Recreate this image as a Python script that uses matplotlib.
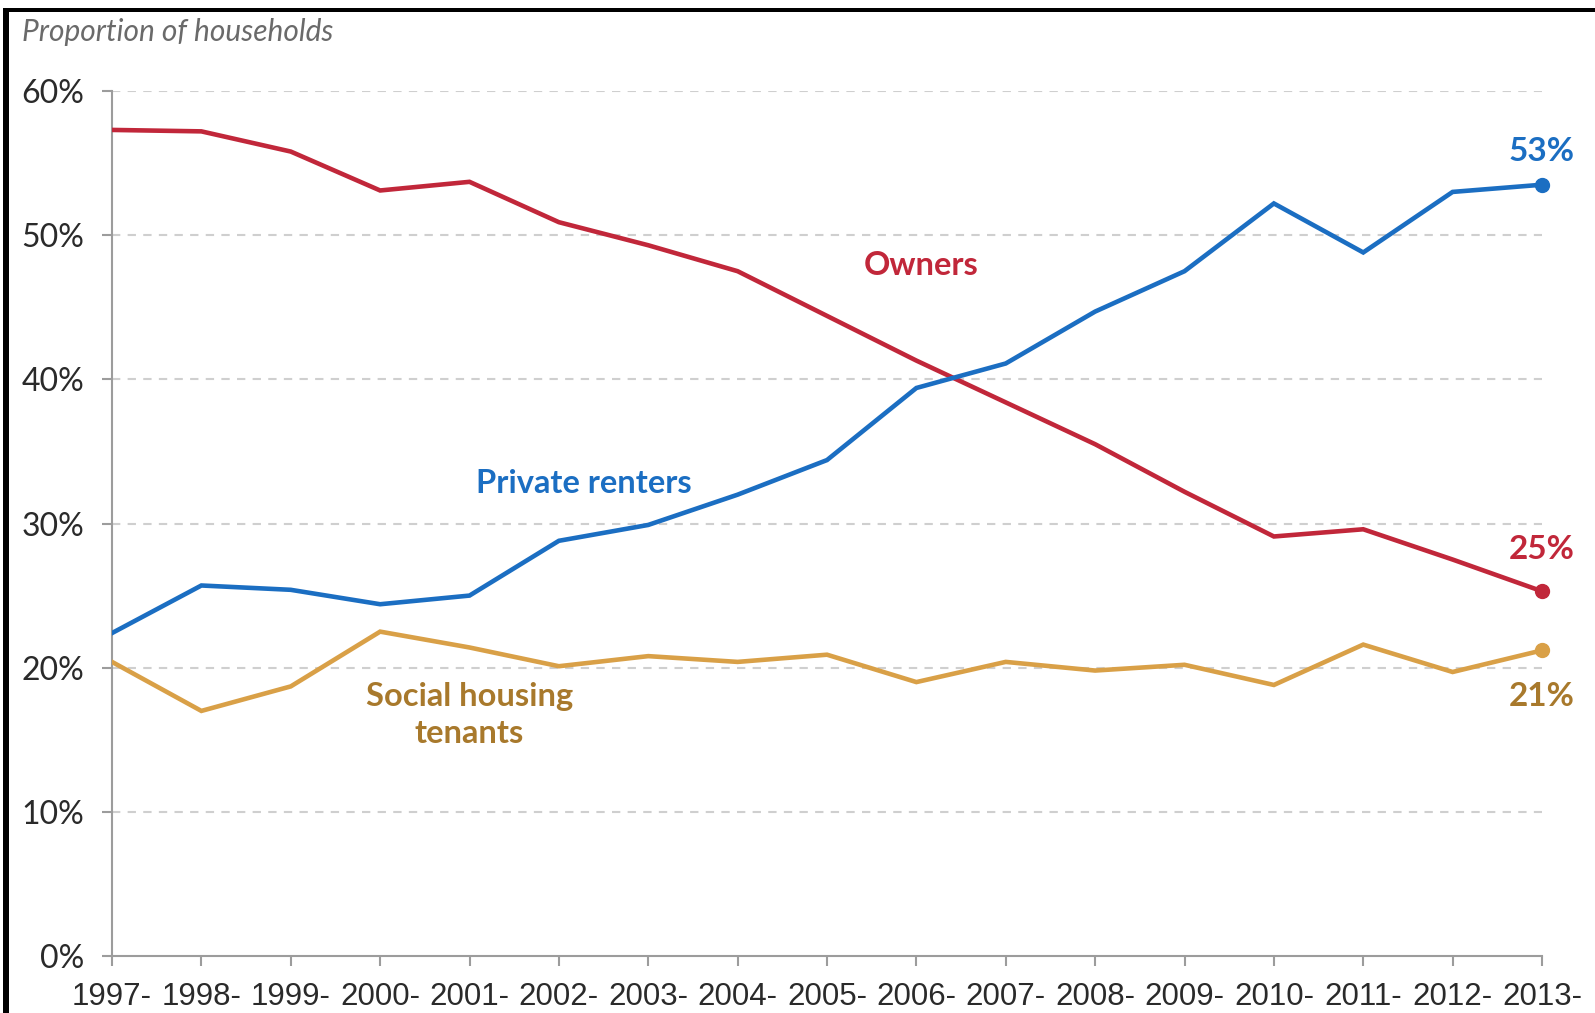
import matplotlib
matplotlib.use("Agg")
import matplotlib.pyplot as plt
from matplotlib.patches import Rectangle

years = list(range(1997, 2014))
year_labels = [f"{y}-" for y in years]

owners = [57.3, 57.2, 55.8, 53.1, 53.7, 50.9, 49.3, 47.5, 44.4, 41.3,
          38.4, 35.5, 32.2, 29.1, 29.6, 27.5, 25.3]
private_renters = [22.4, 25.7, 25.4, 24.4, 25.0, 28.8, 29.9, 32.0, 34.4, 39.4,
                   41.1, 44.7, 47.5, 52.2, 48.8, 53.0, 53.5]
social_tenants = [20.4, 17.0, 18.7, 22.5, 21.4, 20.1, 20.8, 20.4, 20.9, 19.0,
                  20.4, 19.8, 20.2, 18.8, 21.6, 19.7, 21.2]

y_ticks = [0, 10, 20, 30, 40, 50, 60]

RED = "#c1273a"
BLUE = "#1b6ec2"
GOLD = "#d9a047"
GOLD_TEXT = "#a8792c"
GRID = "#cfcfcf"
AXIS = "#9c9c9c"

W, H = 1595, 1013
fig = plt.figure(figsize=(W / 100, H / 100), dpi=100)
ax = fig.add_axes([112 / W, 1 - 956 / H, (1542 - 112) / W, (956 - 91) / H])

for yv in y_ticks[1:]:
    ax.axhline(yv, color=GRID, lw=1.5, ls=(0, (4, 3.5)), zorder=1)

series = [(owners, RED), (private_renters, BLUE), (social_tenants, GOLD)]
for vals, col in series:
    ax.plot(years, vals, color=col, lw=3.3, solid_joinstyle="miter", zorder=3)
    ax.plot(years[-1], vals[-1], "o", color=col, ms=10, zorder=4, clip_on=False)

ax.set_xlim(1997, 2013)
ax.set_ylim(0, 60)
ax.set_xticks(years)
ax.set_xticklabels(year_labels, family="Liberation Sans", fontsize=22.5, color="#2a2a2a")
ax.set_yticks(y_ticks)
ax.set_yticklabels([f"{v}%" for v in y_ticks], family="Lato", fontsize=23, color="#2a2a2a")
ax.tick_params(axis="x", length=7, width=1.5, color=AXIS, pad=12)
ax.tick_params(axis="y", length=7, width=1.5, color=AXIS, pad=13)

for side in ["top", "right"]:
    ax.spines[side].set_visible(False)
for side in ["left", "bottom"]:
    ax.spines[side].set_color(AXIS)
    ax.spines[side].set_linewidth(1.5)

lab = dict(family="Lato", fontweight="bold", fontsize=23.5, ha="center", va="center")
ax.text(2006.05, 47.9, "Owners", color=RED, **lab)
ax.text(2002.28, 32.8, "Private renters", color=BLUE, **lab)
ax.text(2001.0, 16.7, "Social housing\ntenants", color=GOLD_TEXT, linespacing=1.35, **lab)

end_lab = dict(family="Lato", fontweight="bold", fontsize=24, ha="center", va="center")
ax.text(2013, 55.8, "53%", color=BLUE, **end_lab)
ax.text(2013, 28.2, "25%", color=RED, **end_lab)
ax.text(2013, 18.0, "21%", color=GOLD_TEXT, **end_lab)

fig.text(22 / W, 1 - 32 / H, "Proportion of households", family="Lato", style="italic",
         fontsize=21.5, color="#6a6a6a", ha="left", va="center")

# dark frame along the top and left edges
fig.add_artist(Rectangle((3 / W, 0), 6 / W, 1 - 8 / H, transform=fig.transFigure,
                         color="black", lw=0))
fig.add_artist(Rectangle((3 / W, 1 - 12 / H), 1, 4 / H, transform=fig.transFigure,
                         color="black", lw=0))

fig.savefig("out.png", dpi=100)
